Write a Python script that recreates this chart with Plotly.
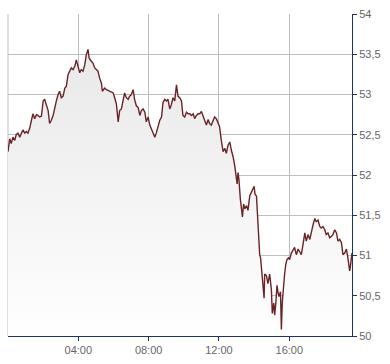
import pandas as pd
import plotly.graph_objects as go

# minutes after 00:00
minutes = [0, 6, 11, 17, 23, 28, 34, 40, 46, 51, 57, 63, 68, 74, 80, 85, 91, 97, 102, 108,
           114, 120, 125, 131, 137, 142, 148, 154, 159, 165, 171, 176, 182, 188, 194, 199,
           205, 211, 216, 222, 228, 233, 239, 245, 250, 256, 262, 267, 273, 277, 285, 290,
           296, 302, 307, 313, 319, 322, 330, 336, 347, 359, 364, 370, 376, 381, 387, 393,
           398, 404, 410, 415, 421, 427, 432, 438, 444, 450, 455, 461, 467, 472, 478, 484,
           489, 495, 501, 506, 512, 518, 524, 529, 535, 541, 546, 552, 558, 563, 569, 575,
           580, 586, 592, 597, 603, 609, 615, 620, 626, 632, 637, 643, 649, 654, 660, 666,
           671, 677, 683, 688, 694, 700, 705, 711, 717, 722, 728, 734, 740, 745, 751, 757,
           762, 768, 774, 779, 782, 785, 788, 793, 797, 800, 804, 808, 814, 819, 825, 831,
           836, 840, 843, 848, 851, 855, 859, 862, 865, 868, 870, 874, 876, 882, 887, 893,
           899, 902, 907, 910, 914, 918, 922, 925, 930, 933, 936, 941, 944, 948, 952, 957,
           961, 967, 973, 978, 984, 990, 995, 1001, 1007, 1013, 1018, 1024, 1030, 1035, 1041,
           1047, 1052, 1058, 1064, 1069, 1075, 1081, 1086, 1092, 1098, 1104, 1109, 1115, 1121,
           1126, 1132, 1138, 1143, 1149, 1155, 1160, 1164, 1166, 1168, 1172, 1174]
prices = [52.29, 52.45, 52.39, 52.47, 52.43, 52.50, 52.52, 52.47, 52.52, 52.56, 52.52, 52.54,
          52.52, 52.58, 52.68, 52.76, 52.70, 52.75, 52.74, 52.72, 52.73, 52.92, 52.94, 52.88,
          52.80, 52.64, 52.68, 52.74, 52.84, 52.92, 53.00, 53.04, 52.96, 52.98, 53.08, 53.10,
          53.25, 53.29, 53.33, 53.31, 53.35, 53.43, 53.33, 53.27, 53.31, 53.29, 53.37, 53.49,
          53.56, 53.45, 53.41, 53.39, 53.33, 53.31, 53.29, 53.20, 53.14, 53.04, 53.08, 53.06,
          53.04, 53.02, 52.96, 52.88, 52.66, 52.80, 52.82, 52.92, 53.02, 52.96, 52.94, 52.98,
          53.00, 53.06, 52.94, 52.86, 52.84, 52.74, 52.80, 52.82, 52.78, 52.66, 52.72, 52.62,
          52.58, 52.54, 52.47, 52.52, 52.62, 52.68, 52.72, 52.90, 52.94, 52.92, 52.94, 52.82,
          52.88, 52.96, 52.92, 53.12, 52.98, 52.96, 52.92, 52.74, 52.72, 52.78, 52.76, 52.76,
          52.74, 52.76, 52.70, 52.74, 52.76, 52.76, 52.79, 52.72, 52.66, 52.62, 52.69, 52.64,
          52.62, 52.68, 52.72, 52.70, 52.64, 52.60, 52.43, 52.29, 52.33, 52.27, 52.37, 52.41,
          52.31, 52.23, 52.11, 51.99, 51.89, 52.03, 51.95, 51.70, 51.58, 51.48, 51.64, 51.58,
          51.62, 51.56, 51.74, 51.80, 51.83, 51.86, 51.76, 51.74, 51.50, 51.22, 51.01, 50.97,
          50.85, 50.73, 50.69, 50.47, 50.77, 50.75, 50.65, 50.77, 50.57, 50.28, 50.41, 50.26,
          50.41, 50.63, 50.53, 50.49, 50.55, 50.08, 50.41, 50.73, 50.77, 50.89, 50.95, 50.97,
          50.95, 51.03, 51.08, 51.10, 51.01, 51.08, 51.05, 51.01, 51.14, 51.28, 51.18, 51.26,
          51.20, 51.30, 51.38, 51.46, 51.42, 51.44, 51.36, 51.34, 51.36, 51.32, 51.26, 51.28,
          51.22, 51.24, 51.26, 51.32, 51.28, 51.18, 51.20, 51.16, 51.01, 51.03, 51.08, 50.97,
          50.87, 50.81, 50.85, 50.97, 51.03]

x_tick_times = ["04:00", "08:00", "12:00", "16:00"]
y_tick_vals = [50, 50.5, 51, 51.5, 52, 52.5, 53, 53.5, 54]
y_tick_text = ["50", "50,5", "51", "51,5", "52", "52,5", "53", "53,5", "54"]

day = pd.Timestamp("2024-01-01")
times = day + pd.to_timedelta(minutes, unit="min")
xtickvals = [day + pd.Timedelta(t + ":00") for t in x_tick_times]

fig = go.Figure()
fig.add_trace(go.Scatter(
    x=times, y=prices, mode="lines",
    line=dict(color="#6b2327", width=1.4),
    fill="tozeroy",
    fillgradient=dict(type="vertical", start=50, stop=54,
                      colorscale=[[0, "#ffffff"], [1, "#e6e6e6"]]),
    hoverinfo="skip", showlegend=False,
))

fig.add_shape(type="line", xref="x domain", yref="y domain", x0=0, x1=0, y0=0, y1=1,
              line=dict(color="#c0c0c0", width=1), layer="below")

fig.update_layout(
    width=390, height=364,
    margin=dict(l=8, r=38, t=11, b=24),
    paper_bgcolor="white", plot_bgcolor="white",
    font=dict(family="Liberation Sans, Arial, sans-serif", size=11, color="#666666"),
    xaxis=dict(
        range=[times[0], times[-1]],
        tickvals=xtickvals, ticktext=x_tick_times,
        showgrid=True, gridcolor="#bdbdbd", gridwidth=1,
        showline=True, linecolor="#1c3464", linewidth=1,
        ticks="outside", ticklen=4, tickcolor="#1c3464",
        zeroline=False,
    ),
    yaxis=dict(
        range=[50, 54], side="right",
        tickvals=y_tick_vals, ticktext=y_tick_text,
        showgrid=True, gridcolor="#bdbdbd", gridwidth=1,
        showline=True, linecolor="#1c3464", linewidth=1,
        ticks="outside", ticklen=4, tickcolor="#1c3464",
        zeroline=False,
    ),
)

fig.write_html("out.html")
